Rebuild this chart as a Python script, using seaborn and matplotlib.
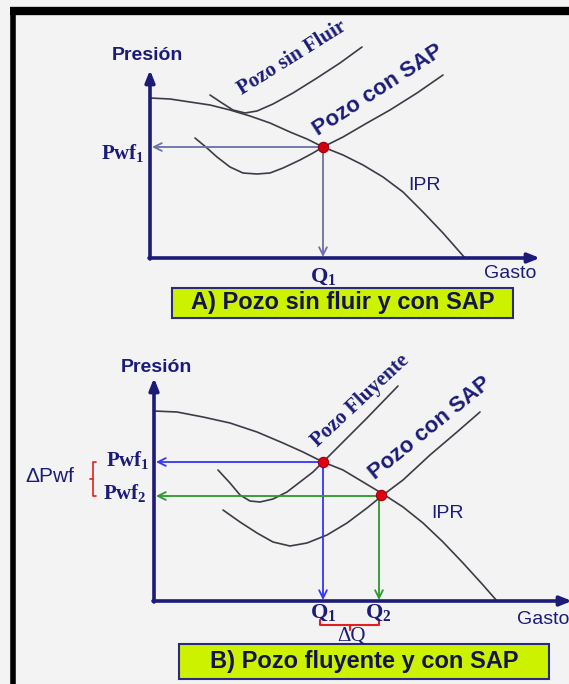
import numpy as np
import pandas as pd
import seaborn as sns
import matplotlib.pyplot as plt
from matplotlib.patches import Rectangle
from matplotlib.lines import Line2D

sns.set_theme(style='white')
plt.rcParams['font.family'] = ['Liberation Sans', 'DejaVu Sans']
plt.rcParams['mathtext.fontset'] = 'custom'
plt.rcParams['mathtext.rm'] = 'Liberation Serif'
plt.rcParams['mathtext.bf'] = 'Liberation Serif:bold'

# ---- datos panel A (Gasto, Presion) ----
ipr_a_q = [0, 20, 40, 60, 80, 100, 120, 140, 157, 173, 193, 213, 233, 253, 273, 293, 315]
ipr_a_p = [160, 159, 156, 153, 148, 142, 135, 126, 119, 111, 103, 93, 81, 66, 46, 25, 0]
sap_a_q = [45, 57, 67, 80, 93, 107, 120, 133, 150, 163, 173, 193, 217, 240, 267, 293]
sap_a_p = [120, 110, 101, 91, 85, 84, 85, 90, 98, 105, 111, 121, 135, 148, 165, 183]
sinfluir_q = [60, 72, 83, 95, 107, 123, 143, 167, 190, 212]
sinfluir_p = [163, 155, 148, 145, 147, 154, 165, 180, 195, 211]
q1_a, pwf1_a = 173, 111

# ---- datos panel B ----
ipr_b_q = [0, 23, 49, 76, 103, 129, 149, 169, 189, 209, 229, 249, 269, 289, 309, 329, 343]
ipr_b_p = [190, 189, 184, 178, 169, 158, 149, 139, 131, 119, 107, 94, 78, 59, 38, 16, 0]
fluyente_q = [64, 76, 86, 96, 106, 119, 133, 146, 159, 169, 189, 213, 244]
fluyente_p = [131, 118, 106, 100, 99, 102, 109, 119, 129, 139, 159, 183, 215]
sap_b_q = [69, 86, 103, 119, 136, 153, 173, 193, 213, 229, 249, 276, 303, 326]
sap_b_p = [91, 79, 68, 59, 55, 58, 66, 78, 93, 106, 121, 146, 169, 189]
q1_b, pwf1_b = 169, 139
q2_b, pwf2_b = 227, 106

navy = '#1c1c78'
curve = '#3c3c48'
W, H = 569, 684

fig = plt.figure(figsize=(W / 100, H / 100), dpi=100)
fig.patch.set_facecolor('#f3f3f3')


def panel(top, bottom, ox, oy):
    # ejes con 1 unidad = 1 pixel, origen en el cruce de los ejes
    ax = fig.add_axes([0, 1 - bottom / H, 1, (bottom - top) / H])
    ax.set_xlim(-ox, W - ox)
    ax.set_ylim(oy - bottom, oy - top)
    ax.axis('off')
    return ax


def curva(ax, q, p):
    sns.lineplot(x=q, y=p, sort=False, estimator=None, color=curve, lw=1.2, ax=ax)


def flecha(ax, x0, y0, x1, y1, color, lw=1.3, style='->'):
    ax.annotate('', xy=(x1, y1), xytext=(x0, y0), annotation_clip=False,
                arrowprops=dict(arrowstyle=style, color=color, lw=lw,
                                shrinkA=0, shrinkB=0, mutation_scale=14))


def ejes(ax, ytop, xtip):
    flecha(ax, 0, -1, 0, ytop, navy, lw=2.6, style='-|>,head_width=0.2,head_length=0.5')
    flecha(ax, -1, 0, xtip, 0, navy, lw=2.6, style='-|>,head_width=0.2,head_length=0.5')


def caja(ax, x, y, w, h, texto):
    ax.add_patch(Rectangle((x, y), w, h, facecolor='#cdf200', edgecolor='#2a2a80', lw=1.5))
    ax.text(x + w / 2, y + h / 2, texto, ha='center', va='center', fontsize=17,
            fontweight='bold', color='#14144a')


serif_bold = dict(family='Liberation Serif', fontweight='bold', color=navy)

# ================= Panel A =================
axa = panel(0, 342, 150, 258)
ejes(axa, 188, 390)
curva(axa, ipr_a_q, ipr_a_p)
curva(axa, sap_a_q, sap_a_p)
curva(axa, sinfluir_q, sinfluir_p)
flecha(axa, q1_a, pwf1_a, 2, pwf1_a, '#6e6eaa')
flecha(axa, q1_a, pwf1_a, q1_a, 1, '#6e6eaa')
sns.scatterplot(x=[q1_a], y=[pwf1_a], s=55, color='#d40010', edgecolor='#900010',
                linewidth=0.8, zorder=5, ax=axa)

axa.text(-3, 202, 'Presión', ha='center', va='center', fontsize=14, fontweight='bold', color=navy)
axa.text(-5, 104, r'$\mathbf{Pwf}_\mathbf{1}$', ha='right', va='center', fontsize=15, color=navy)
axa.text(q1_a, -19, r'$\mathbf{Q}_\mathbf{1}$', ha='center', va='center', fontsize=16, color=navy)
axa.text(360, -15, 'Gasto', ha='center', va='center', fontsize=14, color=navy)
axa.text(275, 73, 'IPR', ha='center', va='center', fontsize=14, color=navy)
axa.text(142, 200, 'Pozo sin Fluir', ha='center', va='center', rotation=32,
         fontsize=15, **serif_bold)
axa.text(228, 168, 'Pozo con SAP', ha='center', va='center', rotation=33,
         fontsize=16, fontweight='bold', color=navy)
caja(axa, 22, -60, 341, 30, 'A) Pozo sin fluir y con SAP')

# ================= Panel B =================
axb = panel(342, 684, 154, 601)
ejes(axb, 223, 418)
curva(axb, ipr_b_q, ipr_b_p)
curva(axb, fluyente_q, fluyente_p)
curva(axb, sap_b_q, sap_b_p)
flecha(axb, q1_b, pwf1_b, 2, pwf1_b, '#3434ff')
flecha(axb, q1_b, pwf1_b, q1_b, 1, '#3434ff')
flecha(axb, q2_b, pwf2_b - 1, 2, pwf2_b - 1, '#2a9a2a')
flecha(axb, q2_b - 2, pwf2_b - 1, q2_b - 2, 1, '#2a9a2a')
sns.scatterplot(x=[q1_b, q2_b], y=[pwf1_b, pwf2_b], s=55, color='#e00010',
                edgecolor='#a00010', linewidth=0.8, zorder=5, ax=axb)

axb.text(2, 234, 'Presión', ha='center', va='center', fontsize=14, fontweight='bold', color=navy)
axb.text(-4, 140, r'$\mathbf{Pwf}_\mathbf{1}$', ha='right', va='center', fontsize=15, color=navy)
axb.text(-7, 107, r'$\mathbf{Pwf}_\mathbf{2}$', ha='right', va='center', fontsize=15, color=navy)
axb.text(-104, 124, 'ΔPwf', ha='center', va='center', fontsize=15, color=navy)
axb.plot([-58, -61, -61, -58], [139, 139, 105, 105], color='#e02020', lw=1.2)
axb.plot([-61, -64], [122, 122], color='#e02020', lw=1.2)
axb.text(q1_b, -12, r'$\mathbf{Q}_\mathbf{1}$', ha='center', va='center', fontsize=16, color=navy)
axb.text(q2_b - 3, -12, r'$\mathbf{Q}_\mathbf{2}$', ha='center', va='center', fontsize=16, color=navy)
axb.plot([166, 166, 225, 225], [-19, -24, -24, -19], color='#e02020', lw=1.5)
axb.plot([196, 196], [-24, -29], color='#e02020', lw=1.5)
axb.text(198, -36, 'ΔQ', ha='center', va='center', fontsize=15, family='Liberation Serif', color=navy)
axb.text(363, -18, 'Gasto', ha='left', va='center', fontsize=14, color=navy)
axb.text(294, 88, 'IPR', ha='center', va='center', fontsize=14, color=navy)
axb.text(206, 200, 'Pozo Fluyente', ha='center', va='center', rotation=43,
         fontsize=15, **serif_bold)
axb.text(276, 173, 'Pozo con SAP', ha='center', va='center', rotation=39,
         fontsize=16, fontweight='bold', color=navy)
caja(axb, 25, -78, 370, 35, 'B) Pozo fluyente y con SAP')

# marco negro superior e izquierdo
fig.add_artist(Line2D([10 / W, 1], [1 - 11 / H, 1 - 11 / H], color='black', lw=6,
                      solid_capstyle='butt'))
fig.add_artist(Line2D([12.5 / W, 12.5 / W], [0, 1 - 7 / H], color='black', lw=4,
                      solid_capstyle='butt'))

fig.savefig('out.png', dpi=100, facecolor=fig.get_facecolor())
